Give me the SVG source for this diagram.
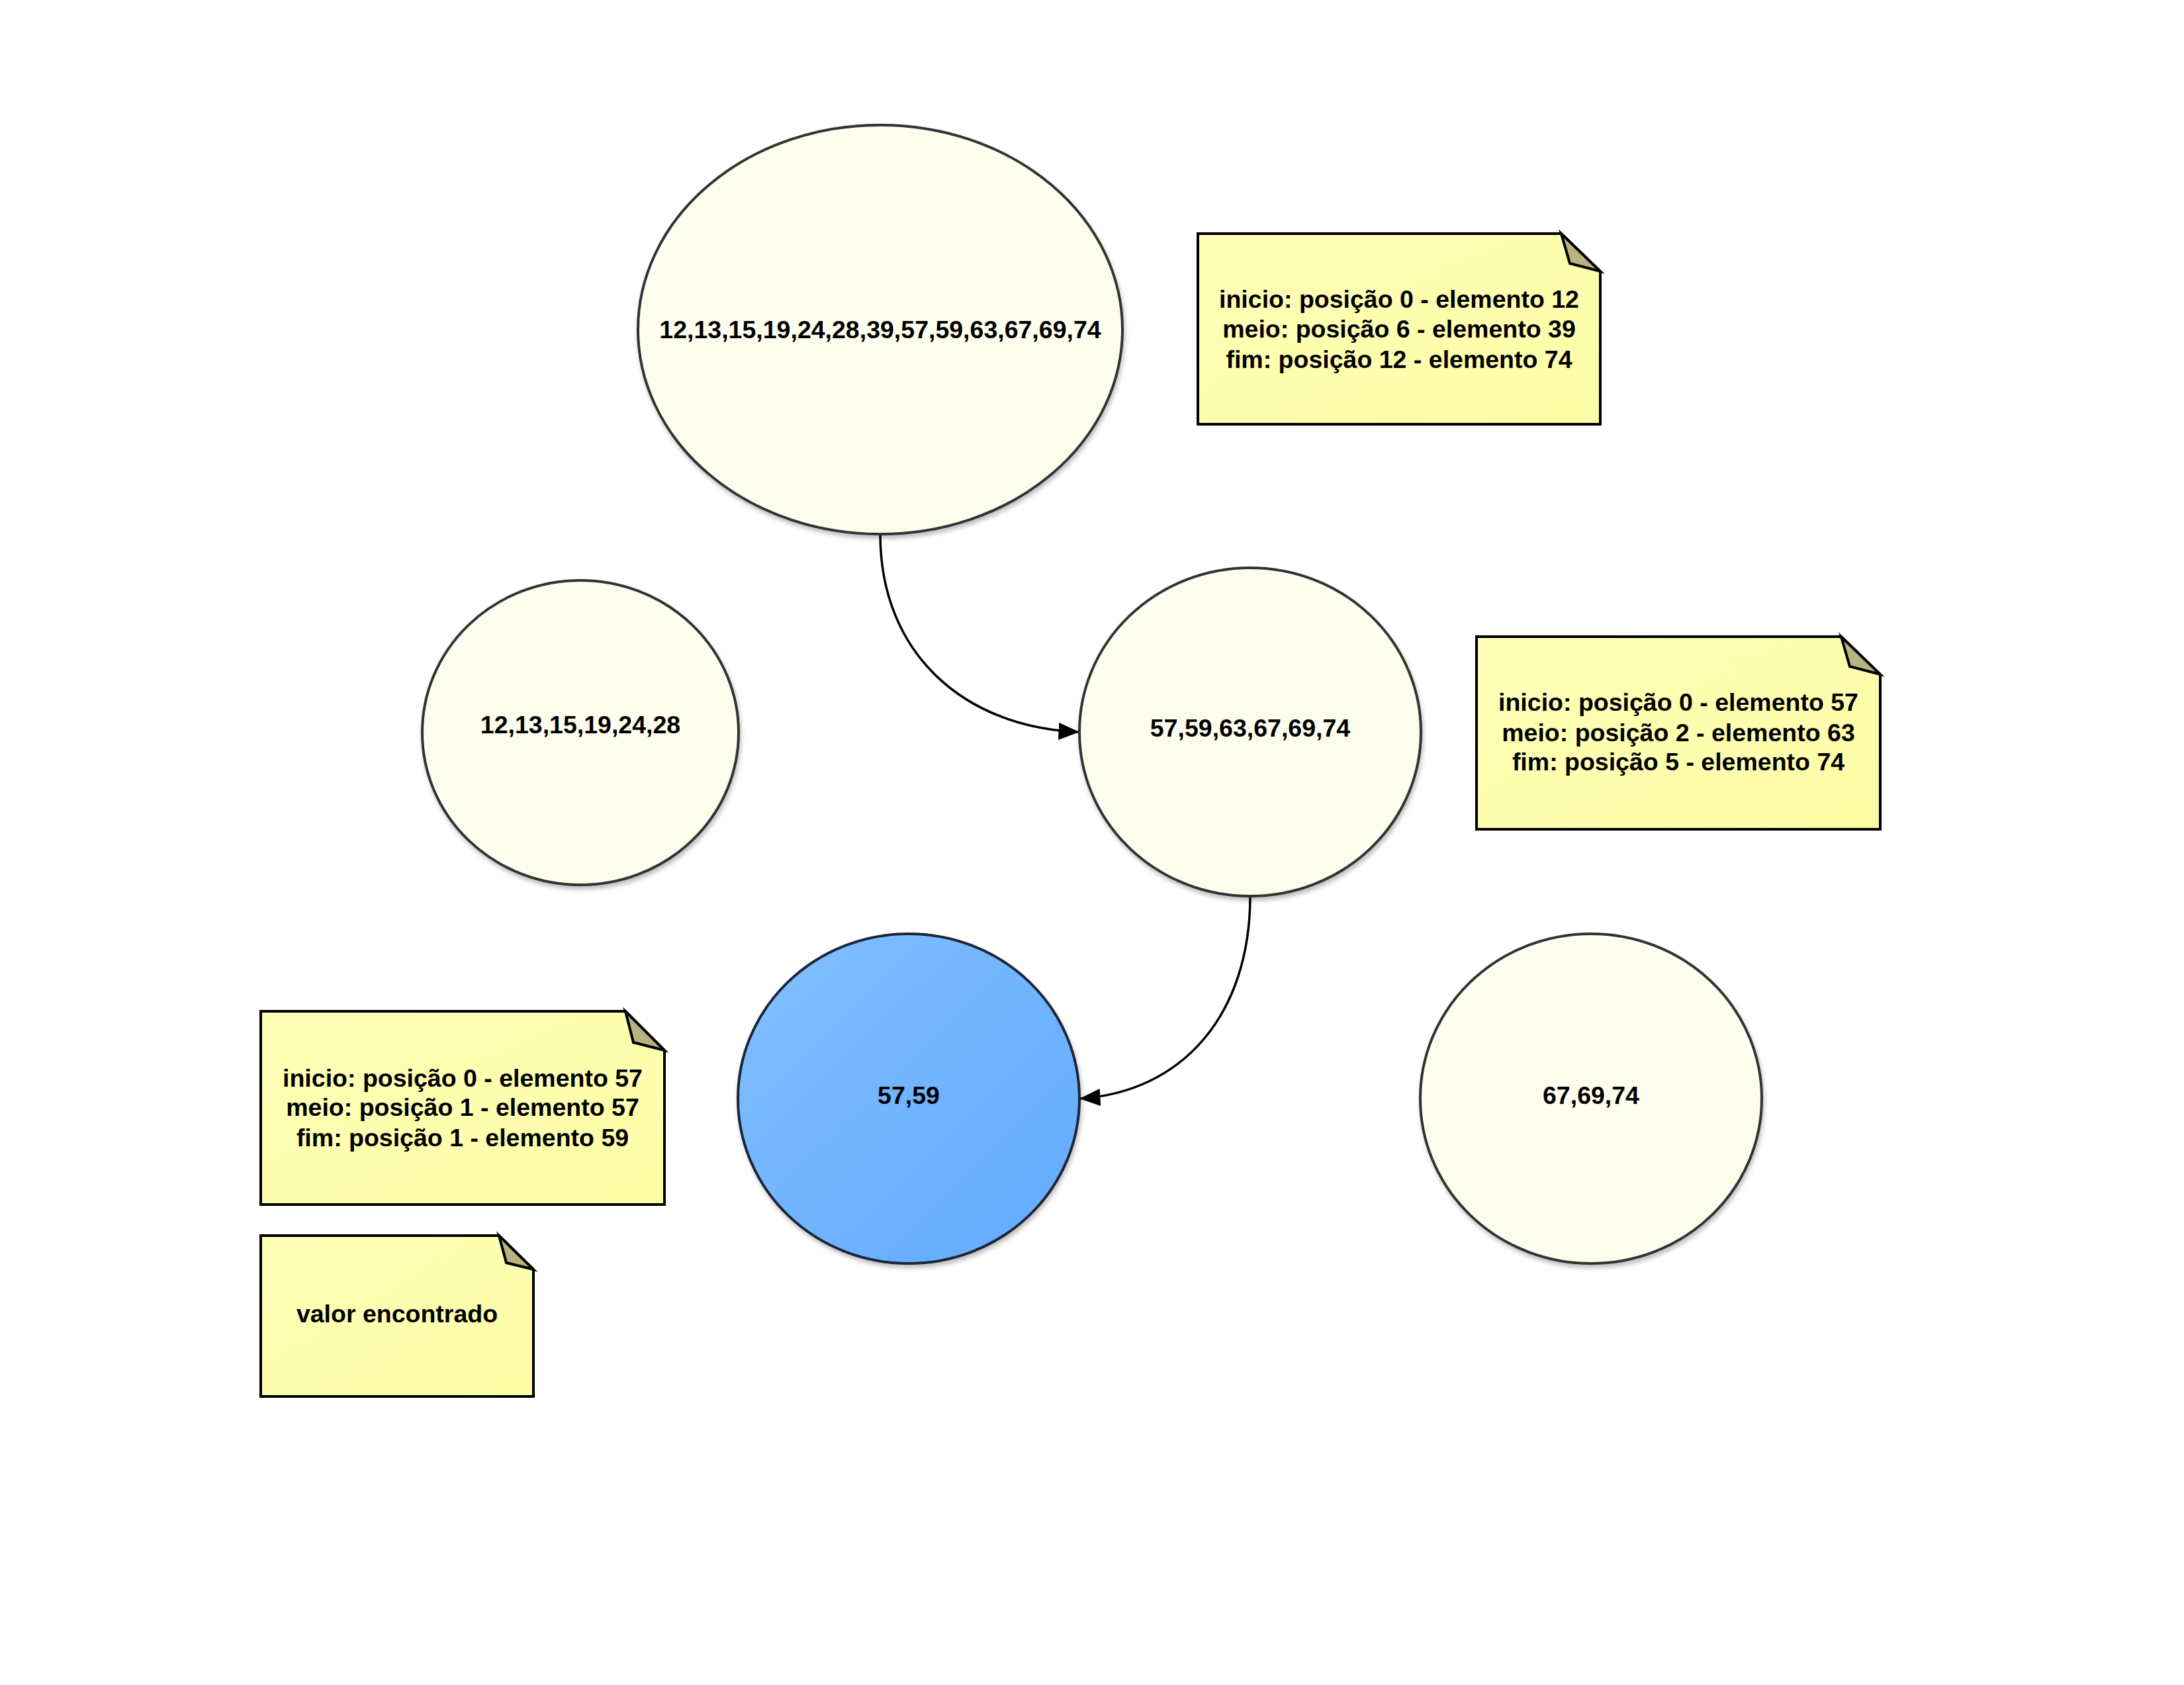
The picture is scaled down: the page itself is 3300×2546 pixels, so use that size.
<svg xmlns="http://www.w3.org/2000/svg" width="3300" height="2546" viewBox="0 0 3300 2546">
<style>
  text { font-family: "Liberation Sans", Arial, sans-serif; font-weight: bold; font-size: 37.5px; fill: #000; text-anchor: middle; }
  .node { fill: url(#ivory); stroke: #333; stroke-width: 4; filter: url(#sh); }
  .found { fill: url(#blue); stroke: #1b2638; stroke-width: 4; filter: url(#sh); }
  .note { fill: url(#yellow); stroke: #000; stroke-width: 4; stroke-linejoin: miter; }
  .fold { fill: #b8b47e; stroke: #000; stroke-width: 4; stroke-linejoin: miter; }
  .edge { fill: none; stroke: #000; stroke-width: 3.5; marker-end: url(#arrow); }
</style>
<defs>
  <linearGradient id="ivory" x1="0" y1="0" x2="1" y2="1">
    <stop offset="0" stop-color="#fefef0"/>
    <stop offset="1" stop-color="#fdfdec"/>
  </linearGradient>
  <linearGradient id="blue" x1="0" y1="0" x2="1" y2="1">
    <stop offset="0" stop-color="#80bfff"/>
    <stop offset="1" stop-color="#63aaff"/>
  </linearGradient>
  <linearGradient id="yellow" x1="0" y1="0" x2="1" y2="1">
    <stop offset="0" stop-color="#ffffb8"/>
    <stop offset="1" stop-color="#fdfda6"/>
  </linearGradient>
  <filter id="sh" x="-10%" y="-10%" width="120%" height="125%">
    <feDropShadow dx="2" dy="5" stdDeviation="3" flood-color="#000" flood-opacity="0.25"/>
  </filter>
  <marker id="arrow" viewBox="0 0 12 10" refX="12" refY="5" markerWidth="9" markerHeight="7.5" orient="auto" markerUnits="strokeWidth">
    <path d="M0,0 L12,5 L0,10 Z" fill="#000"/>
  </marker>
</defs>
<rect width="3300" height="2546" fill="#fff"/>

<g id="connectors">
  <path class="edge" d="M1330,807 C1330,990 1460,1100 1631,1106"/>
  <path class="edge" d="M1889,1354 C1889,1530 1790,1650 1631,1660"/>
</g>

<g id="node-full">
  <ellipse class="node" cx="1330" cy="498" rx="366" ry="309"/>
  <text x="1330" y="511">12,13,15,19,24,28,39,57,59,63,67,69,74</text>
</g>

<g id="node-left">
  <ellipse class="node" cx="877" cy="1107" rx="239" ry="230"/>
  <text x="877" y="1108">12,13,15,19,24,28</text>
</g>

<g id="node-right">
  <ellipse class="node" cx="1889" cy="1106" rx="258" ry="248"/>
  <text x="1889" y="1113">57,59,63,67,69,74</text>
</g>

<g id="node-found">
  <ellipse class="found" cx="1373" cy="1660" rx="258" ry="249"/>
  <text x="1373" y="1668">57,59</text>
</g>

<g id="node-right2">
  <ellipse class="node" cx="2404" cy="1660" rx="258" ry="249"/>
  <text x="2404" y="1668">67,69,74</text>
</g>

<g id="note-1">
  <path class="note" d="M1810,353 H2359 L2418,410 V641 H1810 Z"/>
  <path class="fold" d="M2359,353 L2372,398 L2418,410 Z"/>
  <text x="2114" y="465">inicio: posição 0 - elemento 12</text>
  <text x="2114" y="510">meio: posição 6 - elemento 39</text>
  <text x="2114" y="556">fim: posição 12 - elemento 74</text>
</g>

<g id="note-2">
  <path class="note" d="M2231,962 H2782 L2841,1019 V1253 H2231 Z"/>
  <path class="fold" d="M2782,962 L2795,1007 L2841,1019 Z"/>
  <text x="2536" y="1074">inicio: posição 0 - elemento 57</text>
  <text x="2536" y="1120">meio: posição 2 - elemento 63</text>
  <text x="2536" y="1164">fim: posição 5 - elemento 74</text>
</g>

<g id="note-3">
  <path class="note" d="M394,1528 H945 L1004,1587 V1820 H394 Z"/>
  <path class="fold" d="M945,1528 L957,1575 L1004,1587 Z"/>
  <text x="699" y="1642">inicio: posição 0 - elemento 57</text>
  <text x="699" y="1686">meio: posição 1 - elemento 57</text>
  <text x="699" y="1732">fim: posição 1 - elemento 59</text>
</g>

<g id="note-4">
  <path class="note" d="M394,1867 H754 L806,1918 V2110 H394 Z"/>
  <path class="fold" d="M754,1867 L765,1908 L806,1918 Z"/>
  <text x="600" y="1998">valor encontrado</text>
</g>
</svg>
